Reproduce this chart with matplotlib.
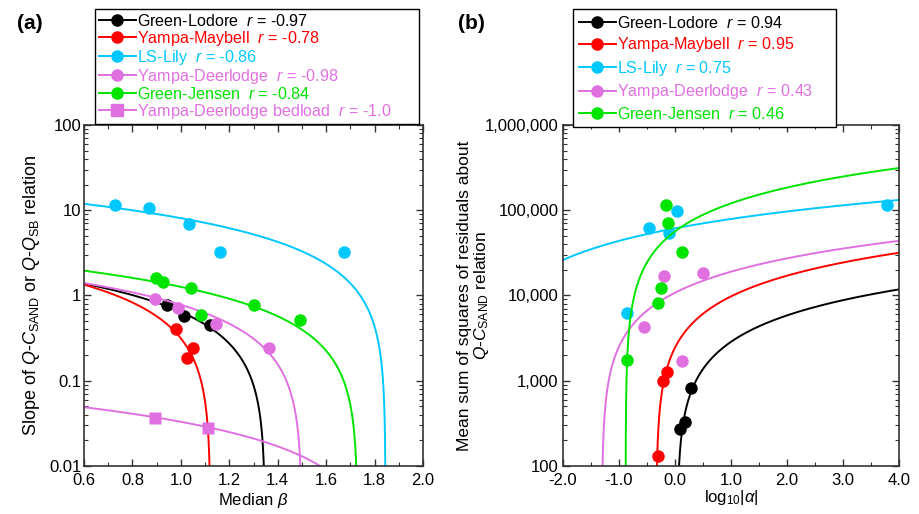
import numpy as np
import matplotlib.pyplot as plt
from matplotlib.ticker import FuncFormatter, MultipleLocator, LogLocator, NullFormatter

plt.rcParams['font.family'] = ['Liberation Sans', 'DejaVu Sans']
plt.rcParams['mathtext.fontset'] = 'custom'
plt.rcParams['mathtext.rm'] = 'Liberation Sans'
plt.rcParams['mathtext.it'] = 'Liberation Sans:italic'
plt.rcParams['mathtext.bf'] = 'Liberation Sans:bold'
plt.rcParams['axes.unicode_minus'] = False

# site names and colours
sites = ['Green-Lodore', 'Yampa-Maybell', 'LS-Lily', 'Yampa-Deerlodge', 'Green-Jensen']
colors = ['black', '#ff0000', '#00c8ff', '#e070e0', '#00e400']

# panel (a): median beta vs slope of Q-C_SAND relation
a_r = ['-0.97', '-0.78', '-0.86', '-0.98', '-0.84']
a_beta = [
    [0.941, 1.015, 1.121],
    [0.981, 1.052, 1.026],
    [0.728, 0.867, 1.034, 1.162, 1.672],
    [0.892, 0.988, 1.144, 1.363],
    [0.897, 0.925, 1.042, 1.082, 1.302, 1.493],
]
a_slope = [
    [0.78, 0.57, 0.45],
    [0.40, 0.24, 0.184],
    [11.5, 10.7, 6.94, 3.28, 3.2],
    [0.91, 0.71, 0.46, 0.24],
    [1.6, 1.45, 1.21, 0.59, 0.77, 0.52],
]
# fitted lines: slope = c0 + c1 * beta
a_c0 = [2.487, 2.884, 17.64, 2.334, 2.993]
a_c1 = [-1.845, -2.57, -9.56, -1.556, -1.73]

# Yampa-Deerlodge bedload (slope of Q-Q_SB relation)
bed_beta = [0.892, 1.112]
bed_slope = [0.0367, 0.028]
bed_c0, bed_c1 = 0.073, -0.04
bed_r = '-1.0'

# panel (b): log10|alpha| vs mean sum of squares of residuals
b_r = ['0.94', '0.95', '0.75', '0.43', '0.46']
b_logalpha = [
    [0.091, 0.180, 0.287],
    [-0.296, -0.217, -0.135],
    [-0.859, -0.467, -0.100, 0.037, 3.79],
    [-0.545, 0.127, -0.200, 0.506],
    [-0.848, -0.307, -0.253, 0.121, -0.118, -0.153],
]
b_mss = [
    [268, 324, 818],
    [131, 990, 1260],
    [6210, 61800, 53600, 98600, 115000],
    [4230, 1700, 17000, 18500],
    [1750, 8140, 12100, 32600, 70200, 116000],
]
# fitted lines: mss = c0 + c1 * log10|alpha|
b_c0 = [-128, 2416, 61315, 10738, 56216]
b_c1 = [2980, 7320, 17670, 8260, 64100]

fig = plt.figure(figsize=(9.2, 5.14), dpi=100)
axa = fig.add_axes([0.0913, 0.0934, 0.3685, 0.6634])
axb = fig.add_axes([0.6116, 0.0934, 0.3655, 0.6634])

ms = 9
lw = 1.4


def fit_x(c0, c1, lo, hi):
    # sample the fit line up to where it hits zero
    root = -c0 / c1
    if c1 < 0:
        return np.linspace(lo, min(hi, root), 3000)
    return np.linspace(max(lo, root), hi, 3000)


# ---- panel (a)
for i in range(len(sites)):
    xs = fit_x(a_c0[i], a_c1[i], 0.6, 2.0)
    ys = np.clip(a_c0[i] + a_c1[i] * xs, 1e-6, None)
    axa.plot(xs, ys, color=colors[i], lw=lw)
    axa.plot(a_beta[i], a_slope[i], 'o', color=colors[i], ms=ms, mec='none')

xs = fit_x(bed_c0, bed_c1, 0.6, 2.0)
ys = np.clip(bed_c0 + bed_c1 * xs, 1e-6, None)
axa.plot(xs, ys, color=colors[3], lw=lw)
axa.plot(bed_beta, bed_slope, 's', color=colors[3], ms=ms, mec='none')

axa.set_yscale('log')
axa.set_xlim(0.6, 2.0)
axa.set_ylim(0.01, 100)
axa.xaxis.set_major_locator(MultipleLocator(0.2))
axa.xaxis.set_minor_locator(MultipleLocator(0.1))
axa.xaxis.set_major_formatter(FuncFormatter(lambda v, p: '%.1f' % v))
axa.yaxis.set_major_formatter(FuncFormatter(lambda v, p: '%g' % v))
axa.set_xlabel(r'Median $\beta$', fontsize=12, labelpad=2)
axa.set_ylabel(r'Slope of $Q$-$C_{\rm SAND}$ or $Q$-$Q_{\rm SB}$ relation', fontsize=13)
axa.yaxis.set_label_coords(-0.125, 0.5)

# ---- panel (b)
for i in range(len(sites)):
    xs = fit_x(b_c0[i], b_c1[i], -2.0, 4.0)
    ys = np.clip(b_c0[i] + b_c1[i] * xs, 1e-3, None)
    axb.plot(xs, ys, color=colors[i], lw=lw)
    axb.plot(b_logalpha[i], b_mss[i], 'o', color=colors[i], ms=ms, mec='none')

axb.set_yscale('log')
axb.set_xlim(-2.0, 4.0)
axb.set_ylim(100, 1e6)
axb.xaxis.set_major_locator(MultipleLocator(1.0))
axb.xaxis.set_minor_locator(MultipleLocator(0.5))
axb.xaxis.set_major_formatter(FuncFormatter(lambda v, p: '%.1f' % v))
axb.yaxis.set_major_formatter(FuncFormatter(lambda v, p: '{:,}'.format(int(round(v)))))
axb.set_xlabel(r'log$_{10}$|$\alpha$|', fontsize=12, labelpad=0)
axb.set_ylabel('Mean sum of squares of residuals about\n$Q$-$C_{\\rm SAND}$ relation',
               fontsize=12.5, linespacing=1.05)
axb.yaxis.set_label_coords(-0.212, 0.5)

for ax in (axa, axb):
    ax.yaxis.set_minor_locator(LogLocator(base=10, subs=np.arange(2, 10)))
    ax.yaxis.set_minor_formatter(NullFormatter())
    ax.tick_params(which='both', direction='in', top=True, right=True,
                   labelsize=12, color='#333333')
    ax.tick_params(which='major', length=5, width=1)
    ax.tick_params(which='minor', length=3, width=0.8)
    ax.tick_params(axis='x', pad=5)
    for s in ax.spines.values():
        s.set_linewidth(1.2)
        s.set_color('#333333')
axa.tick_params(axis='y', pad=2)
axb.tick_params(axis='y', pad=3)

# ---- legends
ha = []
la = []
for i in range(len(sites)):
    h, = axa.plot([], [], color=colors[i], lw=lw, marker='o', ms=8)
    ha.append(h)
    la.append(sites[i] + '  $r$ = ' + a_r[i])
h, = axa.plot([], [], color=colors[3], lw=lw, marker='s', ms=8)
ha.append(h)
la.append('Yampa-Deerlodge bedload  $r$ = ' + bed_r)
leg = axa.legend(ha, la, loc='upper left', bbox_to_anchor=(0.1033, 0.7825, 0.352, 0.2),
                 bbox_transform=fig.transFigure, mode='expand', fontsize=11.6,
                 frameon=True, fancybox=False, framealpha=1, edgecolor='black',
                 handlelength=2.3, handletextpad=0.1, labelspacing=0.0,
                 borderpad=0.22, borderaxespad=0)
leg.get_frame().set_linewidth(1.0)
for t, c in zip(leg.get_texts(), colors + [colors[3]]):
    t.set_color(c)

hb = []
lb = []
for i in range(len(sites)):
    h, = axb.plot([], [], color=colors[i], lw=lw, marker='o', ms=8)
    hb.append(h)
    lb.append(sites[i] + '  $r$ = ' + b_r[i])
legb = axb.legend(hb, lb, loc='upper left', bbox_to_anchor=(0.6228, 0.7825, 0.286, 0.2),
                  bbox_transform=fig.transFigure, mode='expand', fontsize=11.6,
                  frameon=True, fancybox=False, framealpha=1, edgecolor='black',
                  handlelength=2.3, handletextpad=0.1, labelspacing=0.28,
                  borderpad=0.35, borderaxespad=0)
legb.get_frame().set_linewidth(1.0)
for t, c in zip(legb.get_texts(), colors):
    t.set_color(c)

fig.text(0.018, 0.955, '(a)', fontsize=15, fontweight='bold', va='center')
fig.text(0.498, 0.955, '(b)', fontsize=15, fontweight='bold', va='center')

fig.savefig('out.png', dpi=100)
